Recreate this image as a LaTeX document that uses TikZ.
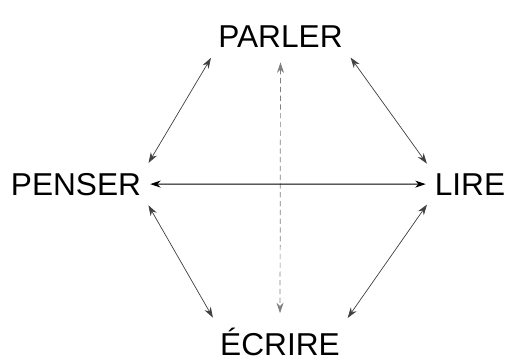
\documentclass[tikz,border=0pt]{standalone}
\usepackage{fontspec}
\setmainfont{Liberation Sans}
\usetikzlibrary{arrows.meta}
\begin{document}
\begin{tikzpicture}[
    mot/.style={anchor=base, inner sep=2pt, font=\fontsize{18}{20}\selectfont},
    lien/.style={{Stealth[length=6pt,width=4pt]}-{Stealth[length=6pt,width=4pt]}, black!75, thin, shorten <=4pt, shorten >=4pt}
]
                \useasboundingbox (0,0) rectangle (10.2,7.16);
                \node (parler) at (5.61,6.20) [mot] {PARLER};
                \node (penser) at (1.52,3.26) [mot] {PENSER};
                \node (lire) at (9.40,3.26) [mot] {LIRE};
                \node (ecrire) at (5.60,0.06) [mot] {ÉCRIRE};
                \draw [lien] (parler.south west) -- (penser.north east);
                \draw [lien] (parler.south east) -- (lire.north west);
                \draw [lien] (penser.south east) -- (ecrire.north west);
                \draw [lien] (lire.south west) -- (ecrire.north east);
                \draw [lien, gray, densely dashed, shorten <=6pt, shorten >=6pt] (parler.south) -- (ecrire.north);
                \draw [lien, black, semithick, shorten <=3pt, shorten >=3pt] (penser.east) -- (lire.west);
            \end{tikzpicture}
\end{document}
